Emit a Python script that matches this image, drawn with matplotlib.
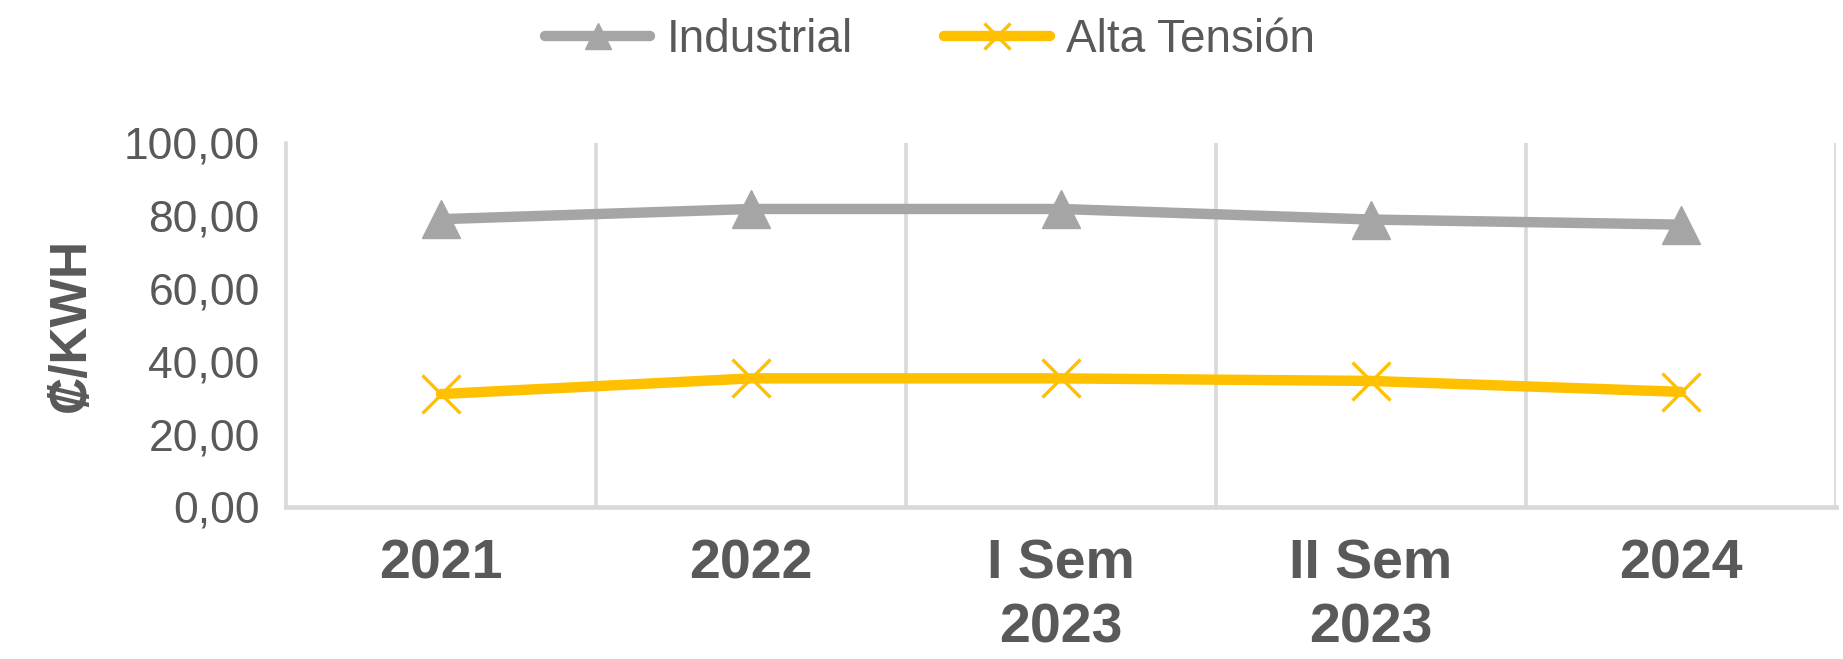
import matplotlib
matplotlib.use("Agg")
import matplotlib.pyplot as plt
from matplotlib.ticker import FixedLocator

categories = ["2021", "2022", "I Sem\n2023", "II Sem\n2023", "2024"]
industrial = [79.0, 81.8, 81.8, 78.9, 77.5]
alta_tension = [31.0, 35.3, 35.3, 34.6, 31.6]
y_ticks = [0, 20, 40, 60, 80, 100]
y_tick_labels = ["0,00", "20,00", "40,00", "60,00", "80,00", "100,00"]

plt.rcParams['font.family'] = ['Liberation Sans', 'DejaVu Sans']
TXT = "#595959"
GRID = "#D9D9D9"

fig = plt.figure(figsize=(18.43, 6.59), dpi=100)
ax = fig.add_axes([0.1552, 0.2307, 0.9962 - 0.1552, 0.7835 - 0.2307])

x = list(range(len(categories)))
ax.plot(x, industrial, color="#A5A5A5", lw=7.5, marker="^", ms=27,
        solid_capstyle="round", label="Industrial", zorder=3)
ax.plot(x, alta_tension, color="#FFC000", lw=7.5, marker="x", ms=27, mew=2.4,
        solid_capstyle="round", label="Alta Tensión", zorder=3)

ax.set_xlim(-0.5, len(categories) - 0.5)
ax.set_ylim(0, 100)
ax.set_xticks(x)
ax.set_xticklabels(categories, fontsize=40, fontweight="bold", color=TXT,
                   linespacing=1.3)
ax.xaxis.set_minor_locator(FixedLocator([i + 0.5 for i in x]))
ax.grid(True, which="minor", axis="x", color=GRID, lw=2.6)
ax.set_yticks(y_ticks)
ax.set_yticklabels(y_tick_labels, fontsize=32, color=TXT)
ax.tick_params(axis="both", which="both", length=0)
ax.tick_params(axis="x", pad=23)
ax.tick_params(axis="y", pad=19)

for s in ["top", "right"]:
    ax.spines[s].set_visible(False)
ax.spines["left"].set_color(GRID)
ax.spines["left"].set_linewidth(2.6)
ax.spines["bottom"].set_color(GRID)
ax.spines["bottom"].set_linewidth(3.4)

ax.set_ylabel("₡/KWH", fontsize=37, fontweight="bold", color=TXT)
ax.yaxis.set_label_coords(-0.123, 0.5)

leg = fig.legend(loc="center", bbox_to_anchor=(0.5046, 0.939), ncol=2,
                 frameon=False, fontsize=33, handlelength=2.3,
                 handletextpad=0.35, columnspacing=2.0, markerscale=0.7)
for t in leg.get_texts():
    t.set_color(TXT)

fig.savefig("out.png", dpi=100)
